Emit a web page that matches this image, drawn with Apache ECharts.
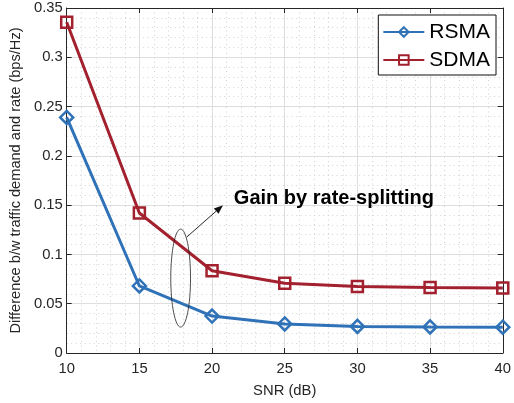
<!DOCTYPE html>
<html>
<head>
<meta charset="utf-8">
<script src="https://cdn.jsdelivr.net/npm/echarts@6/dist/echarts.min.js"></script>
<style>
html,body{margin:0;padding:0;background:#fff;}
#chart{width:514px;height:403px;}
</style>
</head>
<body>
<div id="chart"></div>
<script>
// SNR points and the two curves
var snr = [10, 15, 20, 25, 30, 35, 40];
var rsma = [0.239, 0.068, 0.0375, 0.0295, 0.0270, 0.0265, 0.0262];
var sdma = [0.3355, 0.142, 0.0834, 0.0708, 0.0675, 0.0665, 0.0660];
var yTicks = [0, 0.05, 0.1, 0.15, 0.2, 0.25, 0.3, 0.35];

var blue = '#2f72b8', red = '#a3202e', ink = '#262626';
var font = 'Liberation Sans, Arial, Helvetica, sans-serif';

function pairs(vals){
	var out = [];
	for(var i=0;i<snr.length;i++) out.push([snr[i], vals[i]]);
	return out;
}

var chart = echarts.init(document.getElementById('chart'));

function axisBase(){
	return {
		axisLine:{show:true, onZero:false, lineStyle:{color:ink, width:1}},
		axisTick:{show:true, inside:true, length:5, lineStyle:{color:ink}},
		axisLabel:{color:ink, fontSize:14.8, fontFamily:font}
	};
}

var minorGrid = {show:true, lineStyle:{color:'#d2d2d2', type:[1,3.5], width:1}};

var xMain = axisBase();
Object.assign(xMain, {
	type:'value', min:10, max:40, interval:5,
	name:'SNR (dB)', nameLocation:'middle', nameGap:30,
	nameTextStyle:{color:ink, fontSize:14.8, fontFamily:font},
	splitLine:{show:true, lineStyle:{color:'#dedede', width:1}},
	minorTick:{show:false, splitNumber:5},
	minorSplitLine:minorGrid
});
xMain.axisLabel.margin = 8;

var yMain = axisBase();
Object.assign(yMain, {
	type:'value', min:0, max:0.35, interval:0.05,
	name:'Difference b/w traffic demand and rate (bps/Hz)', nameLocation:'middle', nameGap:42,
	nameTextStyle:{color:ink, fontSize:14.6, fontFamily:font},
	splitLine:{show:true, lineStyle:{color:'#dedede', width:1}},
	minorTick:{show:false, splitNumber:5},
	minorSplitLine:minorGrid
});
yMain.axisLabel.margin = 4;
yMain.axisLabel.formatter = function(v){
	for(var i=0;i<yTicks.length;i++) if(Math.abs(v-yTicks[i])<1e-9) return String(yTicks[i]);
	return '';
};

function boxAxis(kind, pos){
	var a = axisBase();
	a.type = 'value';
	a.position = pos;
	a.axisLabel = {show:false};
	a.splitLine = {show:false};
	if(kind==='x'){ a.min=10; a.max=40; a.interval=5; }
	else { a.min=0; a.max=0.35; a.interval=0.05; }
	return a;
}

var mark = function(color, sym, size){
	return {
		type:'line', symbol:sym, symbolSize:size, showSymbol:true,
		lineStyle:{color:color, width:3},
		itemStyle:{color:'rgba(255,255,255,0)', borderColor:color, borderWidth:2.5},
		emphasis:{disabled:true}, animation:false, z:3
	};
};

var sRsma = mark(blue, 'diamond', 13);
sRsma.name = 'RSMA'; sRsma.data = pairs(rsma);
var sSdma = mark(red, 'rect', 11);
sSdma.name = 'SDMA'; sSdma.data = pairs(sdma);

chart.setOption({
	animation:false,
	backgroundColor:'#fff',
	grid:{left:65, right:9, top:8, bottom:50},
	xAxis:[xMain, boxAxis('x','top')],
	yAxis:[yMain, boxAxis('y','right')],
	legend:{
		orient:'vertical', right:18, top:15,
		padding:[6,6,4,4], itemGap:6,
		itemWidth:41, itemHeight:12,
		backgroundColor:'#fff', borderColor:'#111', borderWidth:1,
		textStyle:{color:'#000', fontSize:21, lineHeight:22, fontFamily:font},
		data:['RSMA','SDMA']
	},
	series:[sRsma, sSdma]
});

// annotation: ellipse around the gap at SNR ~18 dB, arrow and label
function px(x, y){ return chart.convertToPixel({xAxisIndex:0, yAxisIndex:0}, [x, y]); }
var cTop = px(17.84, 0.1257), cBot = px(17.84, 0.0263), cSide = px(18.52, 0.0763);
var aFrom = px(18.25, 0.1175), aTo = px(20.75, 0.150);
var lbl = px(21.5, 0.157);
var ang = Math.atan2(aTo[1]-aFrom[1], aTo[0]-aFrom[0]);
var hl = 9, hw = 3.5;
var back = [aTo[0]-hl*Math.cos(ang), aTo[1]-hl*Math.sin(ang)];
var head = [
	aTo,
	[back[0]+hw*Math.sin(ang), back[1]-hw*Math.cos(ang)],
	[back[0]-hw*Math.sin(ang), back[1]+hw*Math.cos(ang)]
];

chart.setOption({
	graphic:[
		{type:'ellipse', shape:{cx:cTop[0], cy:(cTop[1]+cBot[1])/2, rx:cSide[0]-cTop[0], ry:(cBot[1]-cTop[1])/2},
			style:{fill:'none', stroke:'#222', lineWidth:0.8}, z:10},
		{type:'line', shape:{x1:aFrom[0], y1:aFrom[1], x2:back[0], y2:back[1]},
			style:{stroke:'#111', lineWidth:0.9}, z:10},
		{type:'polygon', shape:{points:head}, style:{fill:'#111'}, z:10},
		{type:'text', x:lbl[0], y:lbl[1],
			style:{text:'Gain by rate-splitting', fill:'#000', font:'bold 20px '+font, verticalAlign:'middle'}, z:10}
	]
});
</script>
</body>
</html>
